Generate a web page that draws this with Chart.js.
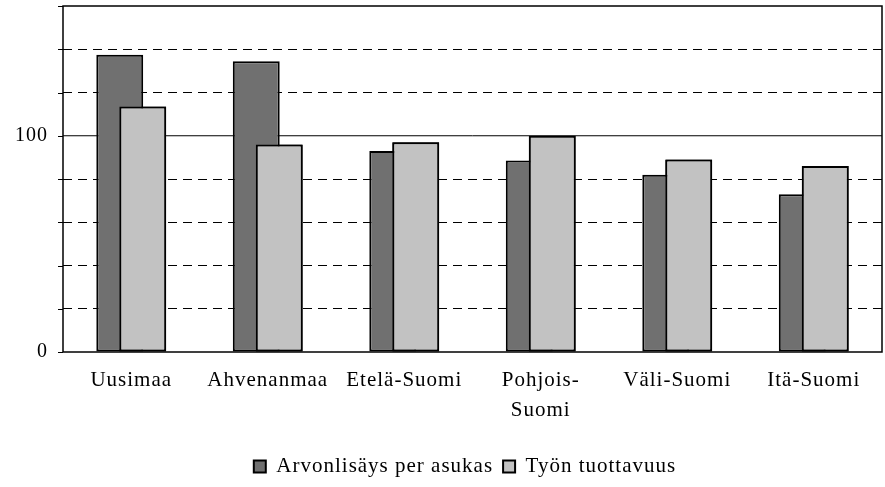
<!DOCTYPE html>
<html>
<head>
<meta charset="utf-8">
<script src="https://cdn.jsdelivr.net/npm/chart.js@4"></script>
<style>
  html, body { margin: 0; padding: 0; background: #fff; }
  #wrap { width: 885px; height: 487px; }
</style>
</head>
<body>
<div id="wrap"><canvas id="chart"></canvas></div>
<script>
// Regions and index values
const categories = ['Uusimaa', 'Ahvenanmaa', 'Etelä-Suomi', ['Pohjois-', 'Suomi'], 'Väli-Suomi', 'Itä-Suomi'];
const arvonlisays = [137.5, 134.5, 93, 88.5, 82, 73];
const tyonTuottavuus = [113.5, 96, 97, 100, 89, 86];
const seriesNames = ['Arvonlisäys per asukas', 'Työn tuottavuus'];
const yLabels = [0, 100];

const serif = "'Liberation Serif', 'DejaVu Serif', serif";
const spacing = '1px';

// Solid line at 100, short tick marks, light bars on top of the dark ones, frame
const framePlugin = {
    id: 'frame',
    beforeUpdate(chart) {
        chart.ctx.letterSpacing = spacing;
    },
    afterLayout(chart) {
        // legend sits a bit right of centre in the original
        chart.legend.left += 24;
        chart.legend.right += 24;
    },
    beforeDraw(chart) {
        chart.ctx.letterSpacing = spacing;
    },
    beforeDatasetsDraw(chart) {
        const {ctx, chartArea, scales} = chart;
        const y = scales.y.getPixelForValue(100);
        ctx.save();
        ctx.strokeStyle = '#000';
        ctx.lineWidth = 1;
        ctx.beginPath();
        ctx.moveTo(chartArea.left, y);
        ctx.lineTo(chartArea.right, y);
        scales.y.ticks.forEach(t => {
            const ty = Math.round(scales.y.getPixelForValue(t.value)) + 0.5;
            ctx.moveTo(chartArea.left - 5, ty);
            ctx.lineTo(chartArea.left, ty);
        });
        ctx.stroke();
        ctx.restore();
    },
    afterDatasetsDraw(chart) {
        // second series overlaps the first one
        chart.getDatasetMeta(1).data.forEach(bar => bar.draw(chart.ctx));
    },
    afterDraw(chart) {
        const {ctx, chartArea} = chart;
        ctx.save();
        ctx.strokeStyle = '#000';
        ctx.lineWidth = 1.5;
        ctx.strokeRect(chartArea.left, chartArea.top, chartArea.right - chartArea.left, chartArea.bottom - chartArea.top);
        ctx.restore();
    }
};

new Chart(document.getElementById('chart'), {
    type: 'bar',
    data: {
        labels: categories,
        datasets: [{
            label: seriesNames[0],
            data: arvonlisays,
            backgroundColor: '#707070',
            borderColor: '#000',
            borderWidth: 2,
            borderSkipped: false,
            categoryPercentage: 0.337,
            barPercentage: 2.04
        }, {
            label: seriesNames[1],
            data: tyonTuottavuus,
            backgroundColor: '#c2c2c2',
            borderColor: '#000',
            borderWidth: 2,
            borderSkipped: false,
            categoryPercentage: 0.337,
            barPercentage: 2.04
        }]
    },
    options: {
        responsive: true,
        maintainAspectRatio: false,
        animation: false,
        layout: {
            padding: { top: 6, right: 3, bottom: 0, left: 0 }
        },
        plugins: {
            legend: {
                position: 'bottom',
                labels: {
                    color: '#000',
                    font: { family: serif, size: 21 },
                    boxWidth: 12,
                    boxHeight: 12,
                    padding: 10
                }
            },
            tooltip: { enabled: false }
        },
        scales: {
            x: {
                grid: { display: false },
                border: { display: false },
                afterFit(scale) {
                    scale.height = scale.height + 16;
                },
                ticks: {
                    color: '#000',
                    font: { family: serif, size: 21, lineHeight: '30px' },
                    padding: 5,
                    maxRotation: 0,
                    autoSkip: false
                }
            },
            y: {
                min: 0,
                max: 160,
                afterFit(scale) {
                    scale.width = 63;
                },
                border: { display: false, dash: [9, 6] },
                grid: {
                    color: (c) => (c.tick && (c.tick.value === 100 || c.tick.value === 0 || c.tick.value === 160)) ? 'rgba(0,0,0,0)' : '#000',
                    lineWidth: 1,
                    tickColor: 'rgba(0,0,0,0)',
                    tickLength: 12
                },
                ticks: {
                    stepSize: 20,
                    color: '#000',
                    font: (c) => ({ family: serif, size: (c.tick && yLabels.includes(c.tick.value)) ? 20 : 1 }),
                    padding: 3,
                    callback: (v) => yLabels.includes(v) ? String(v) : ''
                }
            }
        }
    },
    plugins: [framePlugin]
});
</script>
</body>
</html>
